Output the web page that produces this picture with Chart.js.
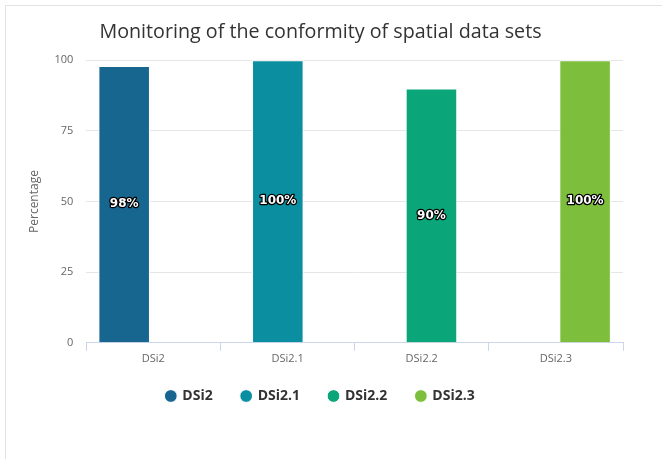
<!DOCTYPE html>
<html>
<head>
<meta charset="utf-8">
<script src="https://cdn.jsdelivr.net/npm/chart.js@4/dist/chart.umd.min.js"></script>
<style>
  html, body { margin: 0; padding: 0; background: #fff; width: 662px; height: 459px; overflow: hidden; }
  #frame { position: absolute; left: 5px; top: 5px; width: 700px; height: 500px;
           border-left: 1px solid #e2e2e2; border-top: 1px solid #e2e2e2; }
  #wrap { position: absolute; left: 6px; top: 6px; width: 629px; height: 413px; }
</style>
</head>
<body>
<div id="frame"></div>
<div id="wrap"><canvas id="c"></canvas></div>
<script>
const categories = ['DSi2', 'DSi2.1', 'DSi2.2', 'DSi2.3'];
const seriesNames = ['DSi2', 'DSi2.1', 'DSi2.2', 'DSi2.3'];
const seriesDSi2   = [98, null, null, null];
const seriesDSi21  = [null, 100, null, null];
const seriesDSi22  = [null, null, 90, null];
const seriesDSi23  = [null, null, null, 100];
const yTicks = [0, 25, 50, 75, 100];
const colors = ['#176690', '#0b8fa0', '#0aa67a', '#7dbf3c'];

const seriesData = [seriesDSi2, seriesDSi21, seriesDSi22, seriesDSi23];

const labelPlugin = {
  id: 'barLabels',
  afterDatasetsDraw(chart) {
    const ctx = chart.ctx;
    ctx.save();
    ctx.font = 'bold 12px "DejaVu Sans"';
    ctx.textAlign = 'center';
    ctx.textBaseline = 'middle';
    ctx.lineJoin = 'round';
    chart.data.datasets.forEach((ds, di) => {
      const meta = chart.getDatasetMeta(di);
      meta.data.forEach((el, i) => {
        const v = ds.data[i];
        if (v === null || v === undefined) return;
        const txt = v + '%';
        const y = (el.y + el.base) / 2;
        ctx.lineWidth = 2.5;
        ctx.strokeStyle = '#000';
        ctx.strokeText(txt, el.x, y);
        ctx.fillStyle = '#fff';
        ctx.fillText(txt, el.x, y);
      });
    });
    ctx.restore();
  }
};

const legendShift = {
  id: 'legendShift',
  afterLayout(chart) {
    const lg = chart.legend;
    if (lg) { lg.top -= 6; lg.bottom -= 6; }
  }
};

new Chart(document.getElementById('c'), {
  type: 'bar',
  data: {
    labels: categories,
    datasets: seriesNames.map((n, i) => ({
      label: n,
      data: seriesData[i],
      backgroundColor: colors[i],
      borderColor: '#ffffff',
      borderWidth: 1,
      categoryPercentage: 0.58,
      barPercentage: 2.65
    }))
  },
  options: {
    responsive: true,
    maintainAspectRatio: false,
    animation: false,
    layout: { padding: { left: 12, right: 12, top: 0, bottom: 0 } },
    plugins: {
      tooltip: { enabled: false },
      title: {
        display: true,
        text: 'Monitoring of the conformity of spatial data sets',
        color: '#333333',
        font: { family: '"Open Sans"', size: 19.7, weight: 'normal' },
        padding: { top: 15, bottom: 15.6 }
      },
      legend: {
        position: 'bottom',
        labels: {
          usePointStyle: true,
          pointStyle: 'circle',
          boxWidth: 9,
          boxHeight: 9,
          padding: 29,
          color: '#333333',
          font: { family: '"Open Sans"', size: 14, weight: 'bold' }
        }
      }
    },
    scales: {
      x: {
        grid: { drawOnChartArea: false, drawTicks: true, tickLength: 8, color: '#ccd6eb', offset: true },
        border: { display: true, color: '#ccd6eb' },
        ticks: { color: '#666666', font: { family: '"Open Sans"', size: 11 }, padding: 1 }
      },
      y: {
        min: 0, max: 100,
        afterBuildTicks(axis) { axis.ticks = yTicks.map(v => ({ value: v })); },
        grid: { color: '#e6e6e6', drawTicks: false },
        border: { display: false },
        ticks: { color: '#666666', font: { family: '"Open Sans"', size: 11 }, padding: 13 },
        title: { display: true, text: 'Percentage', color: '#666666', font: { family: '"Open Sans"', size: 12 }, padding: { top: 9, bottom: 0 } }
      }
    }
  },
  plugins: [labelPlugin, legendShift]
});
</script>
</body>
</html>
